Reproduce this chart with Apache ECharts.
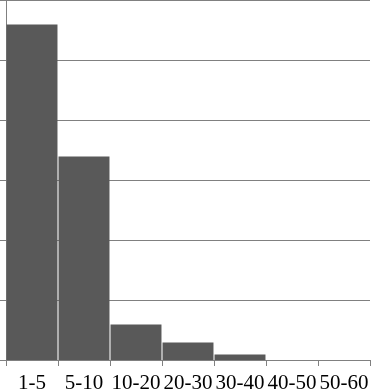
<!DOCTYPE html>
<html>
<head>
<meta charset="utf-8">
<script src="https://cdn.jsdelivr.net/npm/echarts@6/dist/echarts.min.js"></script>
<style>html,body{margin:0;padding:0;background:#fff;}#c{width:371px;height:392px;}</style>
</head>
<body>
<div id="c"></div>
<script>
const categories = ['1-5', '5-10', '10-20', '20-30', '30-40', '40-50', '50-60'];
const values = [55.9, 33.9, 5.9, 2.9, 0.9, 0, 0];
const yMin = 0, yMax = 60, yInterval = 10;

const chart = echarts.init(document.getElementById('c'), null, {renderer: 'canvas'});
chart.setOption({
  animation: false,
  backgroundColor: '#fff',
  grid: {left: 6, right: 1, top: 0, bottom: 32, containLabel: false, outerBoundsMode: 'none'},
  xAxis: {
    type: 'category',
    data: categories,
    boundaryGap: true,
    axisLine: {show: true, lineStyle: {color: '#808080', width: 1}},
    axisTick: {show: true, length: 6, alignWithLabel: false, lineStyle: {color: '#808080'}},
    axisLabel: {color: '#000', fontFamily: 'Liberation Serif', fontSize: 21, margin: 13, interval: 0}
  },
  yAxis: {
    type: 'value',
    min: yMin, max: yMax, interval: yInterval,
    axisLine: {show: true, lineStyle: {color: '#808080', width: 1}},
    axisTick: {show: true, length: 6, lineStyle: {color: '#808080'}},
    axisLabel: {show: false},
    splitLine: {show: true, lineStyle: {color: '#808080', width: 1}}
  },
  series: [{
    type: 'bar',
    data: values,
    barCategoryGap: '2%',
    itemStyle: {color: '#595959'}
  }]
});
</script>
</body>
</html>
